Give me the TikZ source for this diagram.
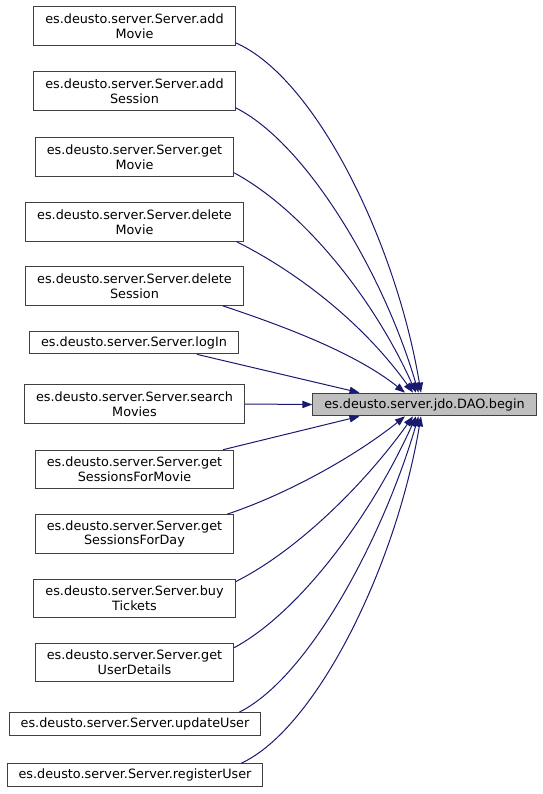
\documentclass[tikz,border=0pt]{standalone}
\usepackage{fontspec}
\setmainfont{DejaVu Sans}
\usetikzlibrary{arrows.meta, calc}
\definecolor{edgeblue}{HTML}{191970}
\definecolor{boxgray}{HTML}{BFBFBF}

\begin{document}
\begin{tikzpicture}[x=0.75pt, y=-0.75pt, line width=0.75pt,
        fn/.style={rectangle, draw=black!75, align=center, inner xsep=8.6pt, inner ysep=0pt,
            minimum height=29pt, font=\fontsize{9.6}{11}\selectfont},
        fnone/.style={fn, minimum height=17pt},
        call/.style={edgeblue, -{Triangle[length=7.5pt, width=5.5pt]}}]
        \useasboundingbox (0,0) rectangle (543,794);

        % Callers (left column)
        \node (AddMovie) [fn] at (134.5,26) {es.deusto.server.Server.add\\Movie};
        \node (AddSession) [fn] at (134.5,91) {es.deusto.server.Server.add\\Session};
        \node (GetMovie) [fn] at (134.5,157) {es.deusto.server.Server.get\\Movie};
        \node (DeleteMovie) [fn] at (134.5,222) {es.deusto.server.Server.delete\\Movie};
        \node (DeleteSession) [fn] at (134.5,286) {es.deusto.server.Server.delete\\Session};
        \node (LogIn) [fnone] at (134,342.5) {es.deusto.server.Server.logIn};
        \node (Search) [fn] at (134.5,404) {es.deusto.server.Server.search\\Movies};
        \node (SessMovie) [fn] at (134.5,469.5) {es.deusto.server.Server.get\\SessionsForMovie};
        \node (SessDay) [fn] at (134.5,534) {es.deusto.server.Server.get\\SessionsForDay};
        \node (Buy) [fn] at (134.5,598.5) {es.deusto.server.Server.buy\\Tickets};
        \node (UserDet) [fn] at (134.5,662.5) {es.deusto.server.Server.get\\UserDetails};
        \node (Update) [fnone] at (135,724) {es.deusto.server.Server.updateUser};
        \node (Register) [fnone] at (135,775) {es.deusto.server.Server.registerUser};

        % Callee
        \node (Begin) [fnone, fill=boxgray] at (424.5,404.5) {es.deusto.server.jdo.DAO.begin};

        % Calls from above
        \draw[call] ($(AddMovie.south east)+(0,-3)$) .. controls +(80,35) and +(-25,-150) .. ($(Begin.north)+(-3.5,0)$);
        \draw[call] ($(AddSession.south east)+(0,-3)$) .. controls +(70,35) and +(-35,-120) .. ($(Begin.north)+(-6,0)$);
        \draw[call] ($(GetMovie.south east)+(0,-4)$) .. controls +(65,35) and +(-45,-100) .. ($(Begin.north)+(-8.5,0)$);
        \draw[call] ($(DeleteMovie.south east)+(-7,0)$) .. controls +(60,30) and +(-50,-70) .. ($(Begin.north)+(-11.5,0)$);
        \draw[call] ($(DeleteSession.south east)+(-21,0)$) .. controls +(60,20) and +(-50,-40) .. ($(Begin.north)+(-19.5,0)$);
        \draw[call] ($(LogIn.south east)+(-42,0)$) -- ($(Begin.north)+(-65,0)$);

        % Straight call
        \draw[call] (Search.east) -- (Begin.west);

        % Calls from below
        \draw[call] ($(SessMovie.north east)+(-11,0)$) -- ($(Begin.south)+(-65,0)$);
        \draw[call] ($(SessDay.north east)+(-7,0)$) .. controls +(60,-20) and +(-50,40) .. ($(Begin.south)+(-19.5,0)$);
        \draw[call] ($(Buy.north east)+(0,3)$) .. controls +(60,-30) and +(-50,70) .. ($(Begin.south)+(-11.5,0)$);
        \draw[call] ($(UserDet.north east)+(0,5)$) .. controls +(65,-35) and +(-45,100) .. ($(Begin.south)+(-8.5,0)$);
        \draw[call] ($(Update.north east)+(-22,0)$) .. controls +(70,-35) and +(-35,120) .. ($(Begin.south)+(-6,0)$);
        \draw[call] ($(Register.north east)+(-22,0)$) .. controls +(75,-35) and +(-25,150) .. ($(Begin.south)+(-3.5,0)$);
    \end{tikzpicture}
\end{document}
